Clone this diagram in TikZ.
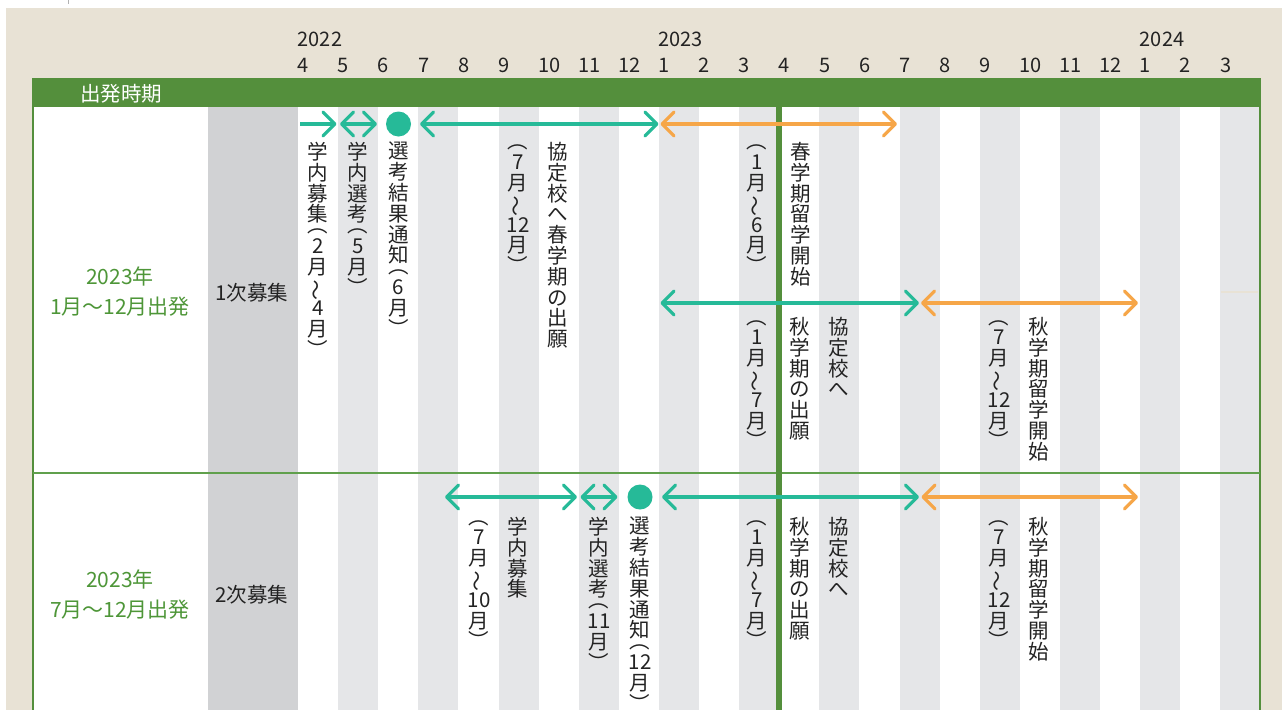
\documentclass[tikz,border=0pt]{standalone}
\usepackage{fontspec}
\setmainfont{Noto Sans CJK JP}
\usepackage{graphicx}
\usetikzlibrary{arrows.meta}

\definecolor{beige}{RGB}{232,226,213}
\definecolor{hdrgreen}{RGB}{84,143,60}
\definecolor{lblgreen}{RGB}{78,150,56}
\definecolor{arrgreen}{RGB}{38,186,152}
\definecolor{arrorange}{RGB}{246,166,72}
\definecolor{stripe}{RGB}{229,230,232}
\definecolor{darkcol}{RGB}{209,210,212}
\definecolor{txt}{RGB}{35,35,35}

% vertical forms and stacking
\newcommand{\lp}{︵}
\newcommand{\rp}{︶}
\newcommand{\wv}{\rotatebox[origin=c]{90}{〜}}
\newcommand{\pb}{\noalign{\vskip-10pt}}
\newcommand{\vstk}[1]{\vbox{\baselineskip=20.8pt\lineskiplimit=-100pt\lineskip=0pt
  \let\\\cr\halign{\hfil##\hfil\cr#1\crcr}}}

\begin{document}
\begin{tikzpicture}[x=1pt,y=-1pt,
    vtxt/.style={anchor=north, inner sep=0pt, text=txt, font=\fontsize{20.5}{20.8}\selectfont},
    htxt/.style={inner sep=0pt, text=txt, font=\fontsize{20.5}{24}\selectfont},
    mon/.style={anchor=base west, inner sep=0pt, text=txt, font=\fontsize{20}{22}\selectfont},
    dep/.style={inner sep=0pt, align=center, text=lblgreen, font=\fontsize{21}{30}\selectfont},
    gone/.style={line width=3.2pt, arrgreen, -{Straight Barb[length=12pt,width=24pt,round]}},
    garr/.style={line width=3.2pt, arrgreen, {Straight Barb[length=12pt,width=24pt,round]}-{Straight Barb[length=12pt,width=24pt,round]}},
    oarr/.style={line width=3.2pt, arrorange, {Straight Barb[length=12pt,width=24pt,round]}-{Straight Barb[length=12pt,width=24pt,round]}},
    dot/.style={circle, fill=arrgreen, minimum size=25pt, inner sep=0pt}]
  \useasboundingbox (0,0) rectangle (1282,710);

  % Background and table body
  \fill[beige] (6,8) rectangle (1282,710);
  \draw[gray!60, line width=1pt] (68.5,0) -- (68.5,4);
  \fill[white] (33,107) rectangle (1260,710);
  \foreach \i in {1,3,...,23}
    \fill[stripe] ({298+40.1*\i},107) rectangle ({298+40.1*(\i+1)},710);
  \fill[darkcol] (208,107) rectangle (298,710);
  \draw[beige, line width=1.5pt] (1221,292) -- (1258,292);

  % Header and frame
  \fill[hdrgreen] (32,78) rectangle (1261,107);
  \node[htxt, text=white] (hdr) at (121,94) {出発時期};
  \draw[hdrgreen, line width=2pt] (33,78) -- (33,710);
  \draw[hdrgreen, line width=2pt] (1260,78) -- (1260,710);
  \draw[lblgreen!90, line width=2pt] (33,473) -- (1260,473);
  \draw[hdrgreen, line width=6pt] (779,107) -- (779,710);

  % Years and months
  \node[mon] (y22) at (297.5,46.5) {2022};
  \node[mon] (y23) at (658.4,46.5) {2023};
  \node[mon] (y24) at (1139.6,46.5) {2024};
  \foreach \m [count=\i from 0] in {4,5,6,7,8,9,10,11,12,1,2,3,4,5,6,7,8,9,10,11,12,1,2,3}
    \node[mon] (m\i) at ({297.5+40.1*\i},72.5) {\m};

  % Row labels
  \node[dep] (dep1) at (120,292) {2023年\\1月〜12月出発};
  \node[htxt] (cat1) at (252,293) {1次募集};
  \node[dep] (dep2) at (120,595) {2023年\\7月〜12月出発};
  \node[htxt] (cat2) at (252,595) {2次募集};

  % Row 1, spring departure
  \coordinate (p1) at (300,124);   \coordinate (p2) at (336.5,124);
  \coordinate (p3) at (340,124);   \coordinate (p4) at (377,124);
  \coordinate (p5) at (420,124);   \coordinate (p6) at (658.5,124);
  \coordinate (p7) at (660.5,124); \coordinate (p8) at (897,124);
  \node[dot] (dot1) at (398.5,124) {};
  \draw[gone] (p1) -- (p2);
  \draw[garr] (p3) -- (p4);
  \draw[garr] (p5) -- (p6);
  \draw[oarr] (p7) -- (p8);
  \node[vtxt] (rec1) at (318,142) {\vstk{学\\内\\募\\集\\\pb\lp\\2\\月\\\wv\\4\\月\\\rp}};
  \node[vtxt] (sel1) at (358,142) {\vstk{学\\内\\選\\考\\\pb\lp\\5\\月\\\rp}};
  \node[vtxt] (res1) at (398.5,142) {\vstk{選\\考\\結\\果\\通\\知\\\pb\lp\\6\\月\\\rp}};
  \node[vtxt] (spap) at (558,142) {\vstk{協\\定\\校\\へ\\春\\学\\期\\の\\出\\願}};
  \node[vtxt] (spapm) at (518,145) {\vstk{\lp\\7\\月\\\wv\\12\\月\\\rp}};
  \node[vtxt] (spst) at (801,142) {\vstk{春\\学\\期\\留\\学\\開\\始}};
  \node[vtxt] (spstm) at (757,145) {\vstk{\lp\\1\\月\\\wv\\6\\月\\\rp}};

  % Row 1, autumn departure
  \coordinate (q1) at (660.5,303); \coordinate (q2) at (919,303);
  \coordinate (q3) at (921,303);   \coordinate (q4) at (1138,303);
  \draw[garr] (q1) -- (q2);
  \draw[oarr] (q3) -- (q4);
  \node[vtxt] (auap1) at (839,317) {\vstk{協\\定\\校\\へ}};
  \node[vtxt] (aub1) at (800,317) {\vstk{秋\\学\\期\\の\\出\\願}};
  \node[vtxt] (aum1) at (757,320) {\vstk{\lp\\1\\月\\\wv\\7\\月\\\rp}};
  \node[vtxt] (aust1) at (1039,317) {\vstk{秋\\学\\期\\留\\学\\開\\始}};
  \node[vtxt] (austm1) at (999,320) {\vstk{\lp\\7\\月\\\wv\\12\\月\\\rp}};

  % Row 2
  \coordinate (r1) at (445,497);   \coordinate (r2) at (577,497);
  \coordinate (r3) at (580.5,497); \coordinate (r4) at (617.5,497);
  \coordinate (r5) at (662,497);   \coordinate (r6) at (919,497);
  \coordinate (r7) at (921.5,497); \coordinate (r8) at (1138,497);
  \node[dot] (dot2) at (640,497) {};
  \draw[garr] (r1) -- (r2);
  \draw[garr] (r3) -- (r4);
  \draw[garr] (r5) -- (r6);
  \draw[oarr] (r7) -- (r8);
  \node[vtxt] (rec2) at (518,517) {\vstk{学\\内\\募\\集}};
  \node[vtxt] (rec2m) at (479,520) {\vstk{\lp\\7\\月\\\wv\\10\\月\\\rp}};
  \node[vtxt] (sel2) at (599,517) {\vstk{学\\内\\選\\考\\\pb\lp\\11\\月\\\rp}};
  \node[vtxt] (res2) at (640,517) {\vstk{選\\考\\結\\果\\通\\知\\\pb\lp\\12\\月\\\rp}};
  \node[vtxt] (auap2) at (839,517) {\vstk{協\\定\\校\\へ}};
  \node[vtxt] (aub2) at (800,517) {\vstk{秋\\学\\期\\の\\出\\願}};
  \node[vtxt] (aum2) at (757,520) {\vstk{\lp\\1\\月\\\wv\\7\\月\\\rp}};
  \node[vtxt] (aust2) at (1039,517) {\vstk{秋\\学\\期\\留\\学\\開\\始}};
  \node[vtxt] (austm2) at (999,520) {\vstk{\lp\\7\\月\\\wv\\12\\月\\\rp}};
\end{tikzpicture}
\end{document}
